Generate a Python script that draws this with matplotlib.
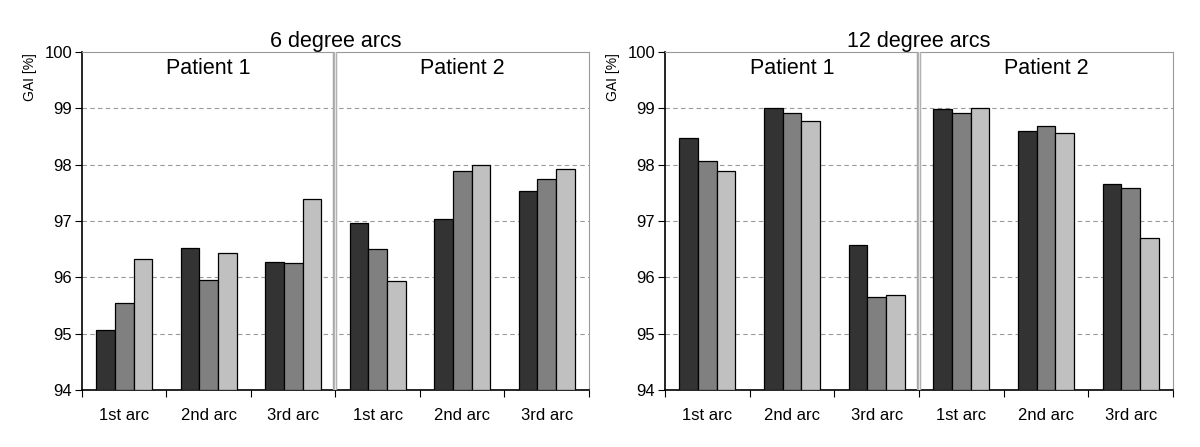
import numpy as np
import matplotlib
matplotlib.use("Agg")
import matplotlib.pyplot as plt

plt.rcParams["font.family"] = ["Liberation Sans", "DejaVu Sans"]

# data (GAI in %)
arc_labels = ["1st arc", "2nd arc", "3rd arc", "1st arc", "2nd arc", "3rd arc"]
patients = ["Patient 1", "Patient 2"]
titles = ["6 degree arcs", "12 degree arcs"]

gai_6_a = [95.07, 96.52, 96.28, 96.97, 97.03, 97.54]
gai_6_b = [95.54, 95.95, 96.25, 96.50, 97.89, 97.74]
gai_6_c = [96.32, 96.43, 97.39, 95.93, 98.00, 97.92]

gai_12_a = [98.48, 99.00, 96.58, 98.99, 98.60, 97.65]
gai_12_b = [98.07, 98.92, 95.66, 98.92, 98.69, 97.58]
gai_12_c = [97.89, 98.77, 95.69, 99.00, 98.57, 96.70]

bar_colors = ["#333333", "#808080", "#c0c0c0"]


def draw_panel(ax, series, title):
    x = np.arange(len(arc_labels))
    width = 0.22
    for i, (vals, color) in enumerate(zip(series, bar_colors)):
        base = 94
        ax.bar(x + (i - 1) * width, np.array(vals) - base, width, bottom=base,
               color=color, edgecolor="black", linewidth=0.9, zorder=3)

    ax.set_ylim(94, 100)
    ax.set_xlim(-0.5, len(arc_labels) - 0.5)
    ax.set_yticks(range(94, 101))
    ax.set_yticklabels([str(v) for v in range(94, 101)], fontsize=12)

    for v in range(95, 100):
        ax.axhline(v, color="#9a9a9a", linestyle=(0, (4, 3)), linewidth=0.8, zorder=1)

    ax.set_xticks(np.arange(-0.5, len(arc_labels)), labels=[])
    ax.set_xticks(x, labels=arc_labels, minor=True)
    ax.tick_params(axis="x", which="major", length=5, direction="out", color="black")
    ax.tick_params(axis="x", which="minor", length=0, labelsize=12, pad=13)
    ax.tick_params(axis="y", length=5, direction="out", pad=2)

    ax.spines["left"].set_color("black")
    ax.spines["bottom"].set_color("black")
    ax.spines["left"].set_linewidth(1.2)
    ax.spines["bottom"].set_linewidth(1.2)
    ax.spines["top"].set_color("#999999")
    ax.spines["right"].set_color("#999999")

    # divider between patients
    mid = (len(arc_labels) - 1) / 2
    ax.axvline(mid, color="#a8a8a8", linewidth=3.2, zorder=4)
    ax.axvline(mid, color="#e4e4e4", linewidth=1.0, zorder=5)

    ax.text(1, 99.7, patients[0], ha="center", va="center", fontsize=15.5)
    ax.text(4, 99.7, patients[1], ha="center", va="center", fontsize=15.5)

    ax.set_title(title, fontsize=15.5, pad=3)
    ax.text(-0.102, 0.925, "GAI [%]", transform=ax.transAxes, rotation=90,
            ha="center", va="center", fontsize=10)


fig = plt.figure(figsize=(12, 4.47), dpi=100)
ax1 = fig.add_axes([0.0683, 0.1275, 0.4225, 0.756])
ax2 = fig.add_axes([0.5542, 0.1275, 0.4233, 0.756])

draw_panel(ax1, [gai_6_a, gai_6_b, gai_6_c], titles[0])
draw_panel(ax2, [gai_12_a, gai_12_b, gai_12_c], titles[1])

fig.savefig("out.png", dpi=100)
